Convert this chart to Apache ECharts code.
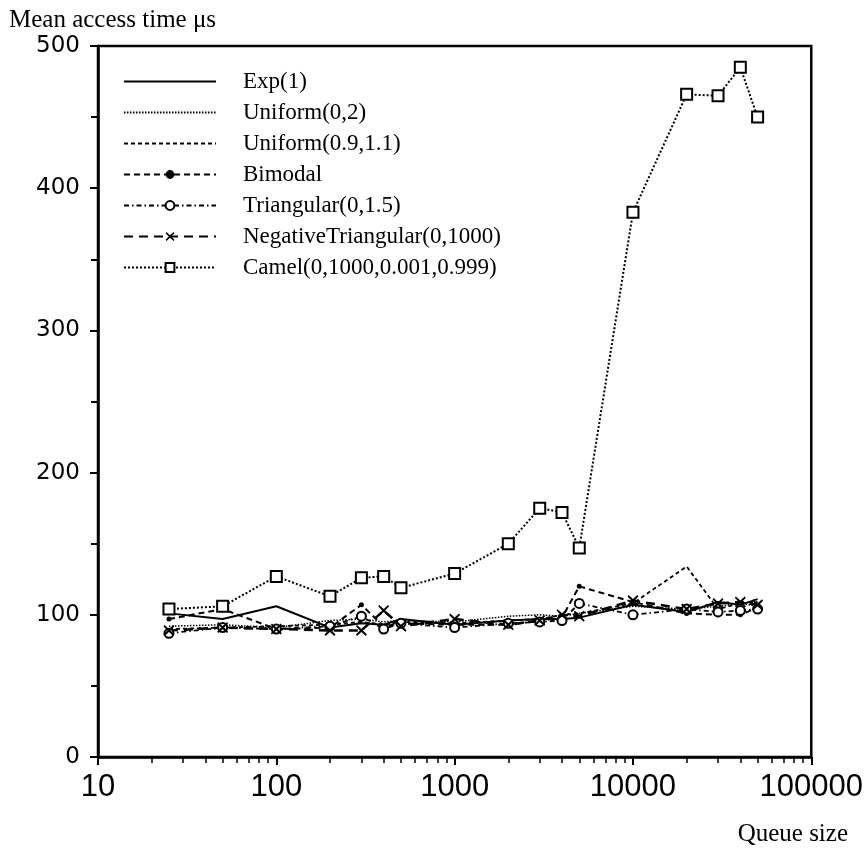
<!DOCTYPE html>
<html>
<head>
<meta charset="utf-8">
<script src="https://cdn.jsdelivr.net/npm/echarts@6/dist/echarts.min.js"></script>
<style>html,body{margin:0;padding:0;background:#fff;}#c{width:866px;height:857px;}</style>
</head>
<body>
<div id="c"></div>
<script>
const queueSizes = [25, 50, 100, 200, 300, 400, 500, 1000, 2000, 3000, 4000, 5000, 10000, 20000, 30000, 40000, 50000];
const expVals      = [101, 97, 106, 91, 94, 93, 97, 93, 96, 97, 97, 98, 107, 102, 109, 107, 111];
const uni02Vals    = [92, 93, 91, 96, 97, 95, 96, 95, 99, 100, 99, 101, 106, 104, 106, 108, 106];
const uni0911Vals  = [90, 91, 92, 93, 95, 93, 95, 94, 96, 97, 100, 101, 108, 134, 104, 108, 109];
const bimodalVals  = [97, 104, 90, 91, 107, 92, 94, 93, 93, 96, 98, 120, 109, 101, 100, 100, 105];
const triVals      = [87, 91, 90, 92, 99, 90, 94, 91, 94, 95, 96, 108, 100, 104, 102, 103, 104];
const negTriVals   = [89, 91, 90, 89, 89, 103, 92, 97, 93, 96, 100, 99, 110, 104, 108, 109, 107];
const camelVals    = [104, 106, 127, 113, 126, 127, 119, 129, 150, 175, 172, 147, 383, 466, 465, 485, 450];
const seriesNames = ['Exp(1)', 'Uniform(0,2)', 'Uniform(0.9,1.1)', 'Bimodal', 'Triangular(0,1.5)', 'NegativeTriangular(0,1000)', 'Camel(0,1000,0.001,0.999)'];
const yTicks = [0, 100, 200, 300, 400, 500];

const pairs = v => queueSizes.map((x, i) => [x, v[i]]);
const xPath = 'path://M1,0 L5,3.6 L9,0 L10,1.2 L6.4,5 L10,8.8 L9,10 L5,6.4 L1,10 L0,8.8 L3.6,5 L0,1.2 Z';
const hidden = { color: '#000', opacity: 0 };

const chart = echarts.init(document.getElementById('c'));
chart.setOption({
  animation: false,
  backgroundColor: '#fff',
  title: {
    text: 'Mean access time \u03bcs', left: 4, top: 3,
    textStyle: { fontFamily: 'Liberation Serif', fontSize: 25, fontWeight: 'normal', color: '#000' }
  },
  graphic: [{
    type: 'text', right: 18, top: 822,
    style: { text: 'Queue size', font: '25px "Liberation Serif"', fill: '#000' }
  }],
  grid: { left: 98, right: 54, top: 46, bottom: 100, show: true, borderColor: '#000', borderWidth: 2.5, containLabel: false },
  legend: {
    orient: 'vertical', left: 118, top: 65,
    itemWidth: 92, itemHeight: 11, itemGap: 8,
    data: seriesNames,
    textStyle: { fontFamily: 'Liberation Serif', fontSize: 23, color: '#000', lineHeight: 23, padding: [0, 0, 0, 22] }
  },
  xAxis: {
    type: 'log', logBase: 10, min: 10, max: 100000,
    axisLine: { lineStyle: { color: '#000', width: 2.5 } },
    axisTick: { show: true, length: 8, lineStyle: { color: '#000', width: 2 } },
    minorTick: { show: true, splitNumber: 9, length: 6, lineStyle: { color: '#000', width: 1.5 } },
    splitLine: { show: false },
    axisLabel: { margin: 15, fontFamily: 'Liberation Sans', fontSize: 31, color: '#000',
      formatter: v => String(Math.round(v)) }
  },
  yAxis: {
    type: 'value', min: 0, max: 500, interval: 100,
    axisLine: { show: true, lineStyle: { color: '#000', width: 2.5 } },
    axisTick: { show: true, length: 8, lineStyle: { color: '#000', width: 2 } },
    minorTick: { show: true, splitNumber: 2, length: 7, lineStyle: { color: '#000', width: 2 } },
    splitLine: { show: false },
    axisLabel: { margin: 18, fontFamily: 'DejaVu Sans', fontSize: 23, color: '#000',
      customValues: yTicks }
  },
  series: [
    { name: seriesNames[0], type: 'line', data: pairs(expVals), symbol: 'none',
      lineStyle: { color: '#000', width: 2, type: 'solid' }, itemStyle: hidden },
    { name: seriesNames[1], type: 'line', data: pairs(uni02Vals), symbol: 'none',
      lineStyle: { color: '#000', width: 1.5, type: [1.5, 1.5] }, itemStyle: hidden },
    { name: seriesNames[2], type: 'line', data: pairs(uni0911Vals), symbol: 'none',
      lineStyle: { color: '#000', width: 1.8, type: [4, 3] }, itemStyle: hidden },
    { name: seriesNames[3], type: 'line', data: pairs(bimodalVals), symbol: 'circle', symbolSize: 5,
      lineStyle: { color: '#000', width: 2, type: [6, 4] }, itemStyle: { color: '#000' } },
    { name: seriesNames[4], type: 'line', data: pairs(triVals), symbol: 'circle', symbolSize: 9,
      lineStyle: { color: '#000', width: 1.8, type: [5, 3, 1.5, 3] },
      itemStyle: { color: '#fff', borderColor: '#000', borderWidth: 2 } },
    { name: seriesNames[5], type: 'line', data: pairs(negTriVals), symbol: xPath, symbolSize: 11,
      lineStyle: { color: '#000', width: 2.5, type: [9, 6] }, itemStyle: { color: '#000' } },
    { name: seriesNames[6], type: 'line', data: pairs(camelVals), symbol: 'rect', symbolSize: 11,
      lineStyle: { color: '#000', width: 2, type: [2, 2] },
      itemStyle: { color: '#fff', borderColor: '#000', borderWidth: 2 } }
  ]
});
</script>
</body>
</html>
